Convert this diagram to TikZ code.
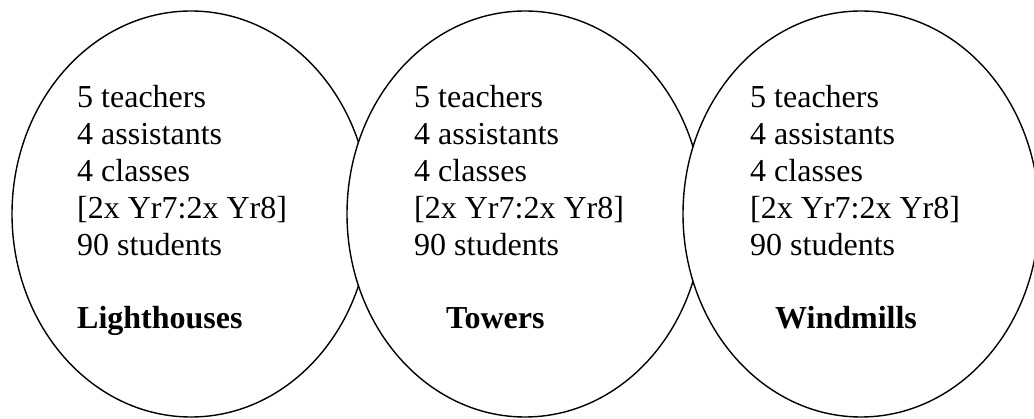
\documentclass[tikz,border=0pt]{standalone}
\usepackage{fontspec}
\setmainfont{Liberation Serif}
\begin{document}
\begin{tikzpicture}[x=1pt,y=1pt,
  ring/.style={draw=black,line width=1.4pt,fill=white},
  info/.style={inner sep=0pt,anchor=base west,font=\fontsize{32}{37}\selectfont},
  title/.style={info,font=\fontsize{32}{37}\selectfont\bfseries}]
\useasboundingbox (0,0) rectangle (1034,418);
\clip (0,0) rectangle (1034,418);
\fill[white] (0,0) rectangle (1034,418);
\draw[ring] (191,204) ellipse [x radius=179, y radius=203];
\draw[ring] (525,204) ellipse [x radius=178, y radius=203];
\draw[ring] (861,204) ellipse [x radius=178, y radius=203];
\foreach \bx/\nm in {77/a,414/b,750/c}{
  \foreach \t [count=\i] in {5 teachers,4 assistants,4 classes,{[2x Yr7:2x Yr8]},90 students}{
    \node[info] (\nm\i) at (\bx,{418-108-36.8*(\i-1)}) {\t};
  }
}
\node[title] (lighthouses) at (77,89) {Lighthouses};
\node[title] (towers) at (446,89) {Towers};
\node[title] (windmills) at (775,89) {Windmills};
\end{tikzpicture}
\end{document}
